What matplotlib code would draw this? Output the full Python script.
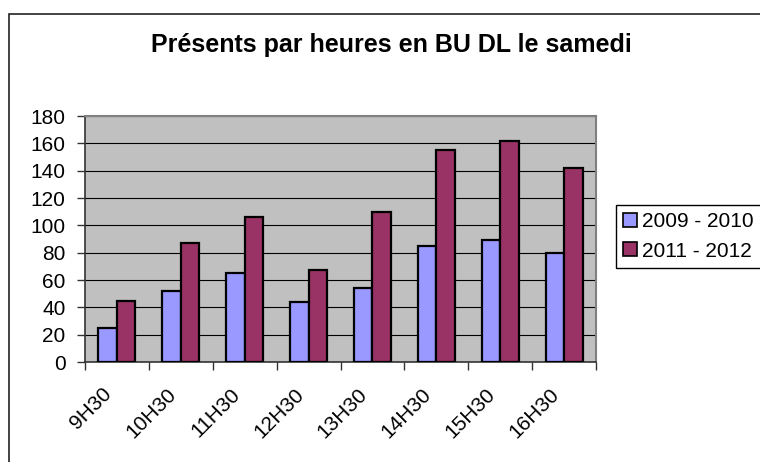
import matplotlib
matplotlib.use("Agg")
import matplotlib.pyplot as plt
import matplotlib.transforms as mtransforms
from matplotlib.patches import Rectangle, Patch
import numpy as np

categories = ["9H30", "10H30", "11H30", "12H30", "13H30", "14H30", "15H30", "16H30"]
series_names = ["2009 - 2010", "2011 - 2012"]
values_2009 = [25, 52, 65, 44, 54, 85, 89, 80]
values_2011 = [45, 87, 106, 67, 110, 155, 162, 142]
yticks = [0, 20, 40, 60, 80, 100, 120, 140, 160, 180]
title = "Présents par heures en BU DL le samedi"

plt.rcParams['font.family'] = ['Liberation Sans', 'DejaVu Sans']

W, H = 760, 462
fig = plt.figure(figsize=(W / 100, H / 100), dpi=100)
fig.patch.set_facecolor("white")

# outer chart border
fig.patches.append(Rectangle((9 / W, -0.05), 1.2, 1.05 - 14 / H, transform=fig.transFigure,
                             fill=False, edgecolor="#222222", linewidth=1.2))

ax = fig.add_axes([85 / W, (H - 362) / H, 511 / W, 246 / H])
ax.set_facecolor("#C0C0C0")

x = np.arange(len(categories))
bw = 0.29
ax.bar(x - bw / 2, values_2009, bw, color="#9999FF", edgecolor="black", linewidth=1.6,
       label=series_names[0], zorder=3)
ax.bar(x + bw / 2, values_2011, bw, color="#993366", edgecolor="black", linewidth=1.6,
       label=series_names[1], zorder=3)

ax.set_xlim(-0.5, len(categories) - 0.5)
ax.set_ylim(0, 180)
ax.set_yticks(yticks)
ax.set_yticklabels([str(v) for v in yticks], fontsize=15)
ax.yaxis.grid(True, color="black", linewidth=0.8, zorder=1)
ax.set_axisbelow(True)

# major ticks at category boundaries, labels at centers
ax.set_xticks(np.arange(-0.5, len(categories), 1.0))
ax.set_xticklabels([])
ax.set_xticks(x, minor=True)
ax.set_xticklabels(categories, minor=True, fontsize=15, rotation=45,
                   ha="right", va="center", rotation_mode="anchor")
ax.tick_params(axis="x", which="minor", length=0, pad=21)
ax.tick_params(axis="x", which="major", length=6, width=1, color="#333333", direction="out")
ax.tick_params(axis="y", length=6, width=1, color="#333333", direction="out", pad=8)
offset = mtransforms.ScaledTranslation(-8 / 100, 0, fig.dpi_scale_trans)
for lbl in ax.xaxis.get_minorticklabels():
    lbl.set_transform(lbl.get_transform() + offset)

for side in ["top", "right"]:
    ax.spines[side].set_color("#808080")
    ax.spines[side].set_linewidth(1.5)
for side in ["left", "bottom"]:
    ax.spines[side].set_color("#333333")
    ax.spines[side].set_linewidth(1.2)

fig.text(391 / W, 1 - 45 / H, title, ha="center", va="center", fontsize=18, fontweight="bold")

handles = [Patch(facecolor="#9999FF", edgecolor="black", linewidth=1.2),
           Patch(facecolor="#993366", edgecolor="black", linewidth=1.2)]
leg = fig.legend(handles, series_names, loc="upper left",
                 bbox_to_anchor=(616 / W, 1 - 205 / H), fontsize=15,
                 frameon=True, fancybox=False, shadow=False, framealpha=1,
                 edgecolor="black", handlelength=0.65, handleheight=0.65,
                 handletextpad=0.25, borderpad=0.35, labelspacing=0.5, borderaxespad=0)
leg.get_frame().set_linewidth(1.0)

fig.savefig("out.png", dpi=100)
